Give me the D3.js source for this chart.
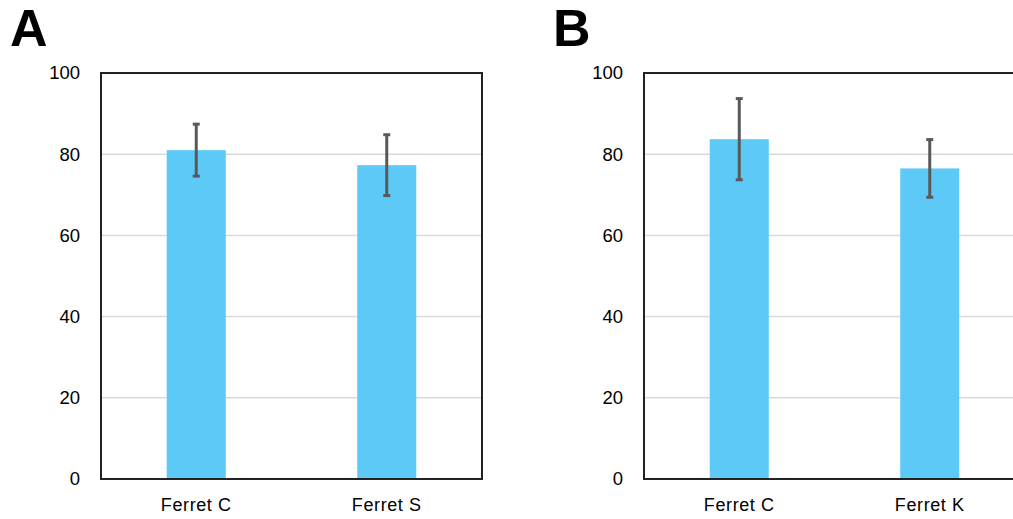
<!DOCTYPE html>
<html>
<head>
<meta charset="utf-8">
<script src="https://cdn.jsdelivr.net/npm/d3@7"></script>
<style>
  html, body { margin: 0; padding: 0; background: #fff; }
  svg { display: block; }
</style>
</head>
<body>
<svg id="chart" width="1013" height="519"></svg>
<script>
// Panel A: Ferret C vs Ferret S
const categoriesA = ["Ferret C", "Ferret S"];
const meansA = [81.0, 77.3];
const errorsA = [6.4, 7.5];

// Panel B: Ferret C vs Ferret K
const categoriesB = ["Ferret C", "Ferret K"];
const meansB = [83.7, 76.5];
const errorsB = [10.0, 7.1];

const yTicks = [0, 20, 40, 60, 80, 100];

const svg = d3.select("#chart");
const font = "'Liberation Sans', Arial, sans-serif";

function drawPanel(letter, left, categories, means, errors) {
  const plotW = 381, top = 73, bottom = 479;
  const g = svg.append("g");

  const x = d3.scaleBand().domain(categories).range([left, left + plotW]).paddingInner(0.69).paddingOuter(0.345);
  const y = d3.scaleLinear().domain([0, 100]).range([bottom, top]);

  // panel letter
  g.append("text")
    .attr("x", left - 91).attr("y", 46)
    .attr("font-family", font).attr("font-weight", "bold")
    .attr("font-size", 52).attr("fill", "#000")
    .text(letter);

  // gridlines
  g.selectAll("line.grid").data(yTicks.filter(t => t > 0 && t < 100)).enter()
    .append("line")
    .attr("x1", left).attr("x2", left + plotW)
    .attr("y1", d => y(d)).attr("y2", d => y(d))
    .attr("stroke", "#d9d9d9").attr("stroke-width", 1.5);

  // bars
  g.selectAll("rect.bar").data(categories).enter()
    .append("rect")
    .attr("x", d => x(d)).attr("width", x.bandwidth())
    .attr("y", (d, i) => y(means[i]))
    .attr("height", (d, i) => y(0) - y(means[i]))
    .attr("fill", "#5dc9f7");

  // error bars
  const cx = d => x(d) + x.bandwidth() / 2;
  const eb = g.selectAll("g.err").data(categories).enter().append("g");
  eb.append("line")
    .attr("x1", cx).attr("x2", cx)
    .attr("y1", (d, i) => y(means[i] + errors[i]))
    .attr("y2", (d, i) => y(means[i] - errors[i]))
    .attr("stroke", "#595959").attr("stroke-width", 3);
  [1, -1].forEach(s => {
    eb.append("line")
      .attr("x1", d => cx(d) - 3.5).attr("x2", d => cx(d) + 3.5)
      .attr("y1", (d, i) => y(means[i] + s * errors[i]))
      .attr("y2", (d, i) => y(means[i] + s * errors[i]))
      .attr("stroke", "#595959").attr("stroke-width", 3);
  });

  // frame
  g.append("rect")
    .attr("x", left).attr("y", top)
    .attr("width", plotW).attr("height", bottom - top)
    .attr("fill", "none").attr("stroke", "#222").attr("stroke-width", 2);

  // y axis labels
  const yAxis = d3.axisLeft(y).tickValues(yTicks).tickSize(0).tickPadding(21);
  const ya = g.append("g").attr("transform", `translate(${left},0)`).call(yAxis);
  ya.select(".domain").remove();
  ya.selectAll("text").attr("font-family", font).attr("font-size", 18.5).attr("fill", "#000");

  // x axis labels
  const xAxis = d3.axisBottom(x).tickSize(0).tickPadding(19);
  const xa = g.append("g").attr("transform", `translate(0,${bottom})`).call(xAxis);
  xa.select(".domain").remove();
  xa.selectAll("text").attr("font-family", font).attr("font-size", 18)
    .attr("letter-spacing", 0.6).attr("fill", "#000");
}

drawPanel("A", 101, categoriesA, meansA, errorsA);
drawPanel("B", 644, categoriesB, meansB, errorsB);
</script>
</body>
</html>
